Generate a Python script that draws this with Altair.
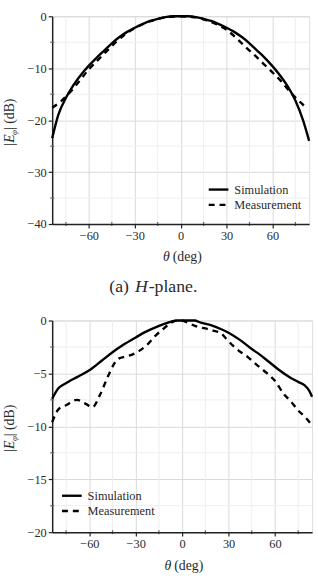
import altair as alt
import pandas as pd

FONT = "Liberation Serif"
TXT = "#2a2a2a"

# ---------------- data ----------------
# (a) H-plane
h_sim_theta = [-84, -80, -75, -70, -65, -60, -55, -50, -45, -40, -35, -30, -25, -20, -15, -10, -5, 0,
               5, 10, 15, 20, 25, 30, 35, 40, 45, 50, 55, 60, 65, 70, 75, 80, 84]
h_sim_db = [-23.5, -19.0, -15.7, -13.2, -11.2, -9.5, -8.0, -6.6, -5.2, -4.0, -3.0, -2.2, -1.5, -0.9, -0.5, -0.15, 0, 0,
            0, -0.15, -0.5, -0.9, -1.5, -2.2, -3.0, -4.0, -5.2, -6.6, -8.0, -9.6, -11.4, -13.5, -16.2, -20.0, -24.0]
h_meas_theta = [-84, -78, -72, -66, -60, -54, -48, -42, -36, -30, -24, -18, -12, -6, 0,
                6, 12, 18, 24, 30, 36, 42, 48, 54, 60, 66, 72, 78, 81]
h_meas_db = [-17.6, -16.3, -14.5, -12.4, -10.2, -8.4, -6.6, -4.9, -3.4, -2.3, -1.4, -0.8, -0.3, -0.1, 0,
             -0.1, -0.3, -0.9, -1.6, -2.6, -4.1, -5.8, -7.4, -9.1, -10.8, -12.6, -14.7, -16.5, -17.3]

# (b) E-plane
e_sim_theta = [-84, -80, -76, -70, -66, -60, -52, -45, -38, -30, -24, -18, -12, -7, -3, 0, 8,
               12, 19, 25, 30, 38, 45, 50, 56, 62, 70, 75, 79, 82, 84]
e_sim_db = [-7.4, -6.4, -6.0, -5.5, -5.2, -4.7, -3.8, -3.0, -2.3, -1.6, -1.1, -0.7, -0.35, -0.1, 0, 0, 0,
            -0.2, -0.45, -0.8, -1.15, -1.9, -2.7, -3.2, -3.9, -4.6, -5.4, -5.8, -6.1, -6.6, -7.2]
e_meas_theta = [-84, -80, -75, -68, -62, -58, -53, -48, -44, -41, -36, -32, -27, -22, -17, -13, -8, -5, -2,
                2, 5, 10, 15, 20, 25, 29, 33, 38, 42, 46, 50, 55, 60, 66, 70, 75, 80, 84]
e_meas_db = [-9.6, -8.4, -8.0, -7.5, -7.9, -8.2, -7.0, -5.3, -4.1, -3.6, -3.4, -3.2, -2.8, -2.2, -1.4, -0.9, -0.3, -0.05, 0,
             -0.1, -0.3, -0.6, -0.75, -0.95, -1.2, -1.8, -2.4, -3.0, -3.4, -3.9, -4.4, -5.0, -5.7, -7.0, -7.6, -8.5, -9.2, -9.9]

x_major = [-60, -30, 0, 30, 60]
x_minor = [-75, -45, -15, 15, 45, 75]
h_y_major = [-40, -30, -20, -10, 0]
h_y_minor = [-35, -25, -15, -5]
e_y_major = [-20, -15, -10, -5, 0]
e_y_minor = [-17.5, -12.5, -7.5, -2.5]
series_names = ["Simulation", "Measurement"]
x_domain = [-84, 84]


def one():
    return pd.DataFrame({"k": [0]})


def panel(sim_t, sim_v, meas_t, meas_v, ydom, ymaj, ymin, W, H, leg_x, leg_y, caption):
    xs = alt.Scale(domain=x_domain, nice=False, zero=False)
    ys = alt.Scale(domain=ydom, nice=False, zero=False)

    xaxis = alt.Axis(values=x_major, grid=True, gridColor="#d9d9d9", gridWidth=1,
                     domainColor="#222222", domainWidth=1.5, tickColor="#222222",
                     tickSize=4, tickWidth=1.2, labelFont=FONT, labelFontSize=12.5,
                     labelColor=TXT, labelPadding=2, title=None, labelFlush=False)
    yaxis = alt.Axis(values=ymaj, grid=True, gridColor="#d9d9d9", gridWidth=1,
                     domainColor="#222222", domainWidth=1.5, tickColor="#222222",
                     tickSize=4, tickWidth=1.2, labelFont=FONT, labelFontSize=12.5,
                     labelColor=TXT, labelPadding=2, title=None, labelFlush=False)

    df_sim = pd.DataFrame({"theta": sim_t, "db": sim_v})
    df_meas = pd.DataFrame({"theta": meas_t, "db": meas_v})

    minor_x = alt.Chart(pd.DataFrame({"theta": x_minor})).mark_rule(
        color="#eeeeee", strokeWidth=1).encode(x=alt.X("theta:Q", scale=xs, axis=xaxis))
    minor_y = alt.Chart(pd.DataFrame({"db": ymin})).mark_rule(
        color="#eeeeee", strokeWidth=1).encode(y=alt.Y("db:Q", scale=ys, axis=yaxis))

    tick_x = alt.Chart(pd.DataFrame({"theta": x_minor})).mark_tick(
        color="#222222", size=4, thickness=1.2).encode(
        x=alt.X("theta:Q", scale=xs, axis=xaxis), y=alt.value(H))
    tick_y = alt.Chart(pd.DataFrame({"db": ymin})).mark_tick(
        color="#222222", size=4, thickness=1.2).encode(
        y=alt.Y("db:Q", scale=ys, axis=yaxis), x=alt.value(0))

    sim = alt.Chart(df_sim).mark_line(color="black", strokeWidth=2.4, interpolate="monotone").encode(
        x=alt.X("theta:Q", scale=xs, axis=xaxis),
        y=alt.Y("db:Q", scale=ys, axis=yaxis))
    meas = alt.Chart(df_meas).mark_line(color="black", strokeWidth=2.4, strokeDash=[6, 5],
                                        interpolate="monotone").encode(
        x=alt.X("theta:Q", scale=xs, axis=xaxis), y=alt.Y("db:Q", scale=ys, axis=yaxis))

    # legend
    leg = []
    for i, name in enumerate(series_names):
        yy = leg_y + i * 15.5
        kw = dict(color="black", strokeWidth=2.4)
        if i == 1:
            kw["strokeDash"] = [6, 5]
        leg.append(alt.Chart(one()).mark_rule(**kw).encode(
            x=alt.value(leg_x), x2=alt.value(leg_x + 20), y=alt.value(yy)))
        leg.append(alt.Chart(one()).mark_text(
            text=name, font=FONT, fontSize=12.5, color=TXT, align="left", baseline="middle").encode(
            x=alt.value(leg_x + 26), y=alt.value(yy)))

    # y title: |E_phi| (dB)
    yt_x = -43
    yt_y = H / 2 + 26
    ytitle = [
        alt.Chart(one()).mark_text(text="|", font=FONT, fontSize=14, color=TXT, angle=270,
                                   align="left", baseline="middle", dx=0).encode(
            x=alt.value(yt_x), y=alt.value(yt_y)),
        alt.Chart(one()).mark_text(text="E", font=FONT, fontSize=14, fontStyle="italic", color=TXT,
                                   angle=270, align="left", baseline="middle", dx=3).encode(
            x=alt.value(yt_x), y=alt.value(yt_y)),
        alt.Chart(one()).mark_text(text="φ", font=FONT, fontSize=9, fontStyle="italic", color=TXT,
                                   angle=270, align="left", baseline="middle", dx=11, dy=4).encode(
            x=alt.value(yt_x), y=alt.value(yt_y)),
        alt.Chart(one()).mark_text(text="| (dB)", font=FONT, fontSize=14, color=TXT, angle=270,
                                   align="left", baseline="middle", dx=16).encode(
            x=alt.value(yt_x), y=alt.value(yt_y)),
    ]
    # x title: theta (deg)
    xt_y = H + 34
    xtitle = [
        alt.Chart(one()).mark_text(text="θ", font=FONT, fontSize=14, fontStyle="italic", color=TXT,
                                   align="right", baseline="middle").encode(
            x=alt.value(W / 2 - 11), y=alt.value(xt_y)),
        alt.Chart(one()).mark_text(text="(deg)", font=FONT, fontSize=14, color=TXT,
                                   align="left", baseline="middle").encode(
            x=alt.value(W / 2 - 8), y=alt.value(xt_y)),
    ]
    cap = []
    if caption:
        cy = H + 64
        cap = [
            alt.Chart(one()).mark_text(text="(a)", font=FONT, fontSize=18, color=TXT,
                                       align="left", baseline="middle").encode(
                x=alt.value(58), y=alt.value(cy)),
            alt.Chart(one()).mark_text(text="H", font=FONT, fontSize=18, fontStyle="italic", color=TXT,
                                       align="left", baseline="middle").encode(
                x=alt.value(84), y=alt.value(cy)),
            alt.Chart(one()).mark_text(text="-plane.", font=FONT, fontSize=18, color=TXT,
                                       align="left", baseline="middle").encode(
                x=alt.value(98), y=alt.value(cy)),
        ]

    return alt.layer(minor_x, minor_y, sim, meas, tick_x, tick_y, *leg, *ytitle, *xtitle, *cap).properties(
        width=W, height=H)


top = panel(h_sim_theta, h_sim_db, h_meas_theta, h_meas_db, [-40, 0], h_y_major, h_y_minor,
            261, 211, 159, 176, True)
bottom = panel(e_sim_theta, e_sim_db, e_meas_theta, e_meas_db, [-20, 0], e_y_major, e_y_minor,
               264, 215, 10, 178, False)

chart = alt.vconcat(top, bottom, spacing=17).properties(
    padding={"left": 2, "top": 5, "right": 0, "bottom": 0}
).configure_view(stroke=None).configure(background="white")

chart.save("out.html", embed_options={"renderer": "svg", "actions": False})
